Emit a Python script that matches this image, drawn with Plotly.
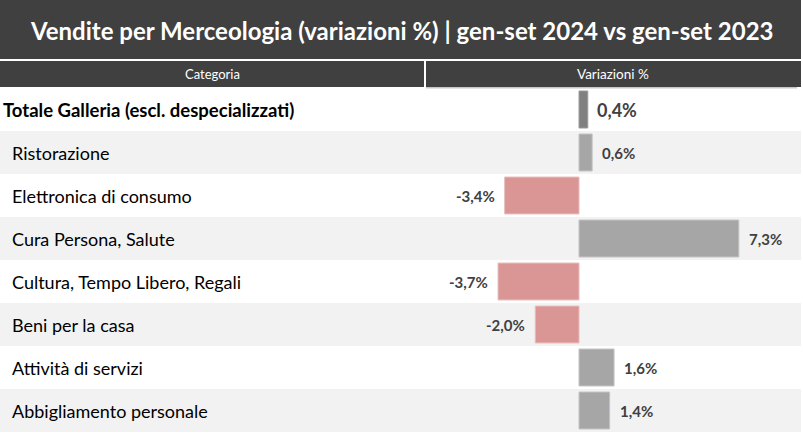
import plotly.graph_objects as go

W, H = 803, 433

title_text = "Vendite per Merceologia (variazioni %) | gen-set 2024 vs gen-set 2023"
header_left = "Categoria"
header_right = "Variazioni %"

categories = [
    "Totale Galleria (escl. despecializzati)",
    "Ristorazione",
    "Elettronica di consumo",
    "Cura Persona, Salute",
    "Cultura, Tempo Libero, Regali",
    "Beni per la casa",
    "Attività di servizi",
    "Abbigliamento personale",
]
variations = [0.4, 0.6, -3.4, 7.3, -3.7, -2.0, 1.6, 1.4]

FONT = "Lato, 'Open Sans', sans-serif"
DARK = "#404040"
TXT = "#404040"


def px_x(p):
    return p / W


def px_y(p):
    return 1 - p / H


def fmt(v):
    return f"{v:.1f}".replace(".", ",") + "%"


colors = []
lines = []
for i, v in enumerate(variations):
    if i == 0:
        colors.append("#808080")
        lines.append("#9a9a9a")
    elif v < 0:
        colors.append("#da9694")
        lines.append("#e8c0bf")
    else:
        colors.append("#a6a6a6")
        lines.append("#c4c4c4")

fig = go.Figure(
    go.Bar(
        x=variations,
        y=categories,
        orientation="h",
        width=0.86,
        marker=dict(color=colors, line=dict(color=lines, width=1)),
        hoverinfo="skip",
    )
)

rows_top, rows_bottom = 88, 432
fig.update_layout(
    width=W,
    height=H,
    margin=dict(l=0, r=0, t=0, b=0),
    paper_bgcolor="white",
    plot_bgcolor="rgba(0,0,0,0)",
    showlegend=False,
    font=dict(family=FONT, color=TXT),
    xaxis=dict(
        domain=[px_x(426), px_x(801)],
        range=[-6.99, 10.14],
        showgrid=False,
        zeroline=False,
        showticklabels=False,
        showline=False,
        fixedrange=True,
    ),
    yaxis=dict(
        domain=[px_y(rows_bottom), px_y(rows_top)],
        type="category",
        categoryorder="array",
        categoryarray=categories,
        range=[len(categories) - 0.5, -0.5],
        showgrid=False,
        zeroline=False,
        showticklabels=False,
        showline=False,
        fixedrange=True,
    ),
)

shapes = []
# title bar
shapes.append(dict(type="rect", xref="paper", yref="paper", x0=0, x1=px_x(801),
                   y0=px_y(59), y1=1, fillcolor=DARK, line=dict(width=0), layer="below"))
# header cells
shapes.append(dict(type="rect", xref="paper", yref="paper", x0=0, x1=px_x(424),
                   y0=px_y(87), y1=px_y(61), fillcolor=DARK, line=dict(width=0), layer="below"))
shapes.append(dict(type="rect", xref="paper", yref="paper", x0=px_x(426), x1=px_x(801),
                   y0=px_y(87), y1=px_y(61), fillcolor=DARK, line=dict(width=0), layer="below"))
shapes.append(dict(type="rect", xref="paper", yref="paper", x0=px_x(426), x1=px_x(797),
                   y0=px_y(88.5), y1=px_y(87), fillcolor="#c8c8c8", line=dict(width=0), layer="below"))
# banded rows
for i in range(len(categories)):
    if i % 2 == 1:
        shapes.append(dict(type="rect", xref="paper", yref="y", x0=0, x1=px_x(801),
                           y0=i - 0.5, y1=i + 0.5, fillcolor="#f2f2f2",
                           line=dict(width=0), layer="below"))

annotations = []
annotations.append(dict(xref="paper", yref="paper", x=px_x(401), y=px_y(30),
                        text=f"<b>{title_text}</b>", showarrow=False,
                        font=dict(family=FONT, size=24, color="white"),
                        xanchor="center", yanchor="middle"))
annotations.append(dict(xref="paper", yref="paper", x=px_x(212), y=px_y(74),
                        text=header_left, showarrow=False,
                        font=dict(family=FONT, size=13, color="white"),
                        xanchor="center", yanchor="middle"))
annotations.append(dict(xref="paper", yref="paper", x=px_x(613), y=px_y(74),
                        text=header_right, showarrow=False,
                        font=dict(family=FONT, size=13.5, color="white"),
                        xanchor="center", yanchor="middle"))

for i, (c, v) in enumerate(zip(categories, variations)):
    if i == 0:
        annotations.append(dict(xref="paper", yref="y", x=px_x(1), y=c, text=f"<b>{c}</b>",
                                showarrow=False, xanchor="left", yanchor="middle",
                                font=dict(family=FONT, size=18.5, color="black")))
        annotations.append(dict(xref="x", yref="y", x=v, y=c, text=f"<b>{fmt(v)}</b>",
                                showarrow=False, xanchor="left", yanchor="middle", xshift=7,
                                font=dict(family=FONT, size=18, color=TXT)))
    else:
        annotations.append(dict(xref="paper", yref="y", x=px_x(10), y=c, text=c,
                                showarrow=False, xanchor="left", yanchor="middle",
                                font=dict(family=FONT, size=18, color="black")))
        annotations.append(dict(xref="x", yref="y", x=v, y=c, text=f"<b>{fmt(v)}</b>",
                                showarrow=False,
                                xanchor="left" if v >= 0 else "right",
                                xshift=8 if v >= 0 else -8, yanchor="middle",
                                font=dict(family=FONT, size=15, color=TXT)))

fig.update_layout(shapes=shapes, annotations=annotations)

fig.write_html("out.html", config={"displayModeBar": False},
               post_script="document.body.style.margin='0';")
